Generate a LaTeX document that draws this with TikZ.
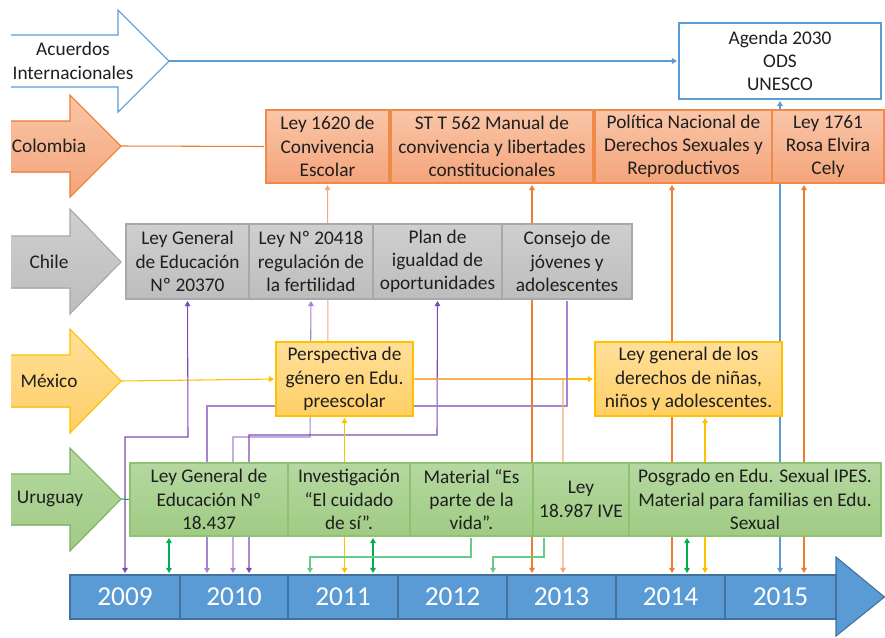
\documentclass[tikz,border=0pt]{standalone}
\usepackage{fontspec}
\setmainfont{Carlito}
\usetikzlibrary{arrows.meta}
\definecolor{txt}{HTML}{1F1F1F}
\definecolor{coE}{HTML}{F08A4B}
\definecolor{coT}{HTML}{F9C6A8}
\definecolor{coB}{HTML}{F4A47A}
\definecolor{chE}{HTML}{A8A8A8}
\definecolor{chT}{HTML}{CFCFCF}
\definecolor{chB}{HTML}{BDBDBD}
\definecolor{mxE}{HTML}{FFC000}
\definecolor{mxT}{HTML}{FFDF99}
\definecolor{mxB}{HTML}{FFCF66}
\definecolor{urE}{HTML}{8DC26F}
\definecolor{urT}{HTML}{B5D8A0}
\definecolor{urB}{HTML}{A0CB84}
\definecolor{blu}{HTML}{5B9BD5}
\definecolor{tlF}{HTML}{5B9BD5}
\definecolor{tlE}{HTML}{41719C}
\definecolor{pur}{HTML}{7F48B5}
\definecolor{purL}{HTML}{A883D3}
\definecolor{orn}{HTML}{ED7D31}
\definecolor{ornL}{HTML}{F5A77A}
\definecolor{ylw}{HTML}{FFC000}
\definecolor{grn}{HTML}{00B050}
\definecolor{grnL}{HTML}{66CC88}
\pgfdeclarelayer{bg}
\pgfsetlayers{bg,main}
\begin{document}
\begin{tikzpicture}[x=0.75pt,y=-0.75pt,
  >={Triangle[width=4.2pt,length=3.8pt]},
  every node/.style={font=\fontsize{14.5}{17.5}\selectfont, align=center, text=txt},
  bxat/.style args={#1/#2/#3/#4}{minimum width={(#3-#1)*0.75pt}, minimum height={(#4-#2)*0.75pt}, at={({(#1+#3)/2},{(#2+#4)/2})}},
  bx/.style={inner sep=0pt, outer sep=0pt, line width=0.8pt},
  cobox/.style={bx, draw=coE, top color=coT, bottom color=coB},
  chbox/.style={bx, draw=chE, top color=chT, bottom color=chB},
  mxbox/.style={bx, draw=mxE, top color=mxT, bottom color=mxB},
  urbox/.style={bx, draw=urE, top color=urT, bottom color=urB},
  agbox/.style={bx, draw=blu, fill=white},
  yr/.style={bx, draw=tlE, fill=tlF, text=white, font=\fontsize{20.5}{24}\selectfont},
  ln/.style={line width=0.8pt, shorten <=1.5pt, shorten >=1.5pt},
  arrshape/.style={line width=0.8pt}]
\useasboundingbox (0,0) rectangle (885,637);

% ---- left arrows
\filldraw[arrshape, draw=blu, fill=white] (11,35) -- (118,35) -- (118,10) -- (169,61) -- (118,112) -- (118,87) -- (11,87);
\filldraw[arrshape, draw=orn, top color=coT, bottom color=coB] (11,121) -- (70,121) -- (70,95) -- (121,146) -- (70,197) -- (70,172) -- (11,172);
\filldraw[arrshape, draw=chE, top color=chT, bottom color=chB] (11,236) -- (70,236) -- (70,209) -- (121,262) -- (70,314) -- (70,288) -- (11,288);
\filldraw[arrshape, draw=mxE, top color=mxT, bottom color=mxB] (11,355) -- (70,355) -- (70,329) -- (121,381) -- (70,433) -- (70,407) -- (11,407);
\filldraw[arrshape, draw=urE!90!black, top color=urT, bottom color=urB] (11,474) -- (70,474) -- (70,448) -- (121,499) -- (70,551) -- (70,525) -- (11,525);
\node (acu) at (73,61) {Acuerdos\\Internacionales};
\node (col) at (49,146) {Colombia};
\node (chi) at (49,262) {Chile};
\node (mex) at (49,381) {México};
\node (uru) at (50,499) {Uruguay};
\coordinate (acuTip) at (169,61);
\coordinate (colTip) at (121,146);
\coordinate (mexTip) at (121,381);
\coordinate (uruTip) at (121,499);

% ---- boxes
\node[agbox, bxat=679/23/881/99] (ag) {Agenda 2030\\ODS\\UNESCO};
\node[cobox, bxat=266/110/389/183] (co1) {Ley 1620 de\\Convivencia\\Escolar};
\node[cobox, bxat=391/110/593/183] (co2) {ST T 562 Manual de\\convivencia y libertades\\constitucionales};
\node[cobox, bxat=595/110/772/183] (co3) {Política Nacional de\\Derechos Sexuales y\\Reproductivos};
\node[cobox, bxat=772/110/884/183] (co4) {Ley 1761\\Rosa Elvira\\Cely};
\node[chbox, bxat=126/224/249/299] (ch1) {Ley General\\de Educación\\Nº 20370};
\node[chbox, bxat=249/224/373/299] (ch2) {Ley Nº 20418\\regulación de\\la fertilidad};
\node[chbox, bxat=373/224/502/299] (ch3) {Plan de\\igualdad de\\oportunidades};
\node[chbox, bxat=502/224/632/299] (ch4) {Consejo de\\jóvenes y\\adolescentes};
\node[mxbox, bxat=276/342/413/416] (mx1) {Perspectiva de\\género en Edu.\\preescolar};
\node[mxbox, bxat=595/342/782/416] (mx2) {Ley general de los\\derechos de niñas,\\niños y adolescentes.};
\node[urbox, bxat=130/463/288/536] (ur1) {Ley General de\\Educación Nº\\18.437};
\node[urbox, bxat=288/463/410/536] (ur2) {Investigación\\“El cuidado\\de sí”.};
\node[urbox, bxat=410/463/533/536] (ur3) {Material “Es\\parte de la\\vida”.};
\node[urbox, bxat=533/463/629/536] (ur4) {Ley\\18.987 IVE};
\node[urbox, bxat=629/463/881/536] (ur5) {Posgrado en Edu. Sexual IPES.\\Material para familias en Edu.\\Sexual};

% ---- timeline
\filldraw[arrshape, fill=tlF, draw=tlE] (836,557) -- (884.5,597) -- (836,636) -- cycle;
\node[yr, bxat=70/575/180/619] (y2009) {2009};
\node[yr, bxat=180/575/288/619] (y2010) {2010};
\node[yr, bxat=288/575/398/619] (y2011) {2011};
\node[yr, bxat=398/575/507/619] (y2012) {2012};
\node[yr, bxat=507/575/616/619] (y2013) {2013};
\node[yr, bxat=616/575/725/619] (y2014) {2014};
\node[yr, bxat=725/575/836/619] (y2015) {2015};

% ---- connectors (behind boxes)
\begin{pgfonlayer}{bg}
\draw[ln, blu, ->, shorten <=0pt] (acuTip) -- (ag.west);
\draw[ln, orn, shorten <=0pt] (colTip) -- (co1.west);
\draw[ln, ylw, ->, shorten <=0pt] (mexTip) -- (mx1.west);
\draw[ln, grn, shorten <=0pt, shorten >=0pt] (uruTip) -- (ur1.west);
\draw[ln, ylw, ->] (mx1.east) -- (mx2.west);
% purple
\draw[ln, pur, <->] (ch1.south) -- (188,437) -- (125,437) -- (125,0 |- y2009.north);
\draw[ln, purL, <->] (ch2.south) -- (310,437) -- (233,437) -- (233,0 |- y2010.north);
\draw[ln, pur, <->] (ch3.south) -- (437,435) -- (249,435) -- (249,0 |- y2010.north);
\draw[ln, purL, ->] (ch4.south) -- (567,406) -- (207,406) -- (207,0 |- y2010.north);
% orange
\draw[ln, ornL, <->] (co1.south) -- (328,379) -- (563,379) -- (563,0 |- y2013.north);
\draw[ln, orn, <->] (532,0 |- co2.south) -- (532,0 |- y2013.north);
\draw[ln, orn, <->] (672,0 |- co3.south) -- (672,0 |- y2014.north);
\draw[ln, orn, <->] (804,0 |- co4.south) -- (804,0 |- y2015.north);
% blue
\draw[ln, blu, <->] (ag.south) -- (ag.south |- y2015.north);
% yellow
\draw[ln, ylw, <->] (mx1.south) -- (mx1.south |- y2011.north);
\draw[ln, ylw, <->] (705,0 |- mx2.south) -- (705,0 |- y2014.north);
% green
\draw[ln, grn, <->] (169,0 |- ur1.south) -- (169,0 |- y2009.north);
\draw[ln, grn, <->] (373,0 |- ur2.south) -- (373,0 |- y2011.north);
\draw[ln, grnL, ->] (471,0 |- ur3.south) -- (471,557) -- (310,557) -- (310,0 |- y2011.north);
\draw[ln, grnL, ->] (544,0 |- ur4.south) -- (544,557) -- (493,557) -- (493,0 |- y2012.north);
\draw[ln, grn, <->] (687,0 |- ur5.south) -- (687,0 |- y2014.north);
\end{pgfonlayer}
\end{tikzpicture}
\end{document}
